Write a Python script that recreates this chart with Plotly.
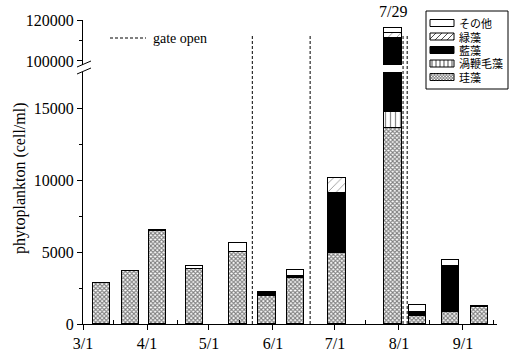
import plotly.graph_objects as go

# ---- data ----
dates = ["1995-03-10", "1995-03-24", "1995-04-06", "1995-04-24", "1995-05-15", "1995-05-29",
         "1995-06-12", "1995-07-02", "1995-07-29", "1995-08-10", "1995-08-26", "1995-09-09"]
diatom = [2880, 3650, 6450, 3820, 5020, 1970, 3170, 4950, 13580, 560, 860, 1170]          # 珪藻
dino   = [None, None, None, None, None, None, None, None, 1150, None, None, None]          # 渦鞭毛藻
blue   = [None, 50, 70, None, None, 200, 160, 4120, 96330, 290, 3080, 50]                  # 藍藻
green  = [None, None, None, None, None, None, None, 1060, 2440, None, 100, None]           # 緑藻
other  = [None, None, None, 230, 620, 50, 400, None, 2740, 470, 400, None]                 # その他
gate_open = ["1995-05-22", "1995-06-19", "1995-08-03", "1995-08-05"]
month_ticks = ["1995-03-01", "1995-04-01", "1995-05-01", "1995-06-01", "1995-07-01", "1995-08-01", "1995-09-01"]
month_labels = ["3/1", "4/1", "5/1", "6/1", "7/1", "8/1", "9/1"]
minor_ticks = ["1995-03-16", "1995-04-16", "1995-05-16", "1995-06-16", "1995-07-16", "1995-08-16", "1995-09-16"]
legend_names = ["その他", "緑藻", "藍藻", "渦鞭毛藻", "珪藻"]

series = [
    ("珪藻", diatom, dict(fillmode="overlay", bgcolor="white", fgcolor="#000", shape="x", size=3, solidity=0.6), "white"),
    ("渦鞭毛藻", dino, dict(fillmode="overlay", bgcolor="white", fgcolor="#111", shape="|", size=5, solidity=0.25), "white"),
    ("藍藻", blue, None, "black"),
    ("緑藻", green, dict(fillmode="overlay", bgcolor="white", fgcolor="#333", shape="/", size=6, solidity=0.15), "white"),
    ("その他", other, None, "white"),
]

W, H = 509, 353
L, R, T, B = 83, 12, 20, 29
PW, PH = W - L - R, H - T - B
def px(x): return (x - L) / PW
def py(y): return (H - B - y) / PH

bar_w = 8.5 * 86400000
SERIF = "Liberation Serif"
DASH = "3px,2px"

fig = go.Figure()
for name, vals, pat, col in series:
    for ax in ("y", "y2"):
        marker = dict(color=col, line=dict(color="black", width=1))
        if pat:
            marker["pattern"] = pat
        fig.add_trace(go.Bar(x=dates, y=vals, name=name, yaxis=ax, width=bar_w,
                             marker=marker, showlegend=False))

shapes = []
for d in gate_open:
    shapes.append(dict(type="line", xref="x", yref="paper", x0=d, x1=d, y0=0, y1=py(36),
                       line=dict(color="black", width=1, dash=DASH)))
# gate open key
shapes.append(dict(type="line", xref="paper", yref="paper", x0=px(110), x1=px(146), y0=py(38), y1=py(38),
                   line=dict(color="black", width=1, dash=DASH)))
# axis break marks
for y0 in (67, 74):
    shapes.append(dict(type="line", xref="paper", yref="paper", x0=px(77), x1=px(91), y0=py(y0), y1=py(y0 - 6),
                       line=dict(color="black", width=1)))

# ---- custom legend (box, swatches, hatching) ----
def seg_path(segs):
    return " ".join(f"M{px(a):.5f},{py(b):.5f} L{px(c):.5f},{py(d):.5f}" for a, b, c, d in segs)

def hatch(x0, x1, yt, yb, step, kind):
    h = yb - yt
    segs = []
    if kind == "|":
        x = x0 + step / 2
        while x < x1:
            segs.append((x, yt, x, yb)); x += step
        return segs
    a = x0 - h
    while a < x1:
        sx, sy, ex, ey = a, yb, a + h, yt
        if sx < x0:
            t = x0 - sx; sx, sy = x0, yb - t
        if ex > x1:
            t = ex - x1; ex, ey = x1, yt + t
        if ex > sx:
            if kind == "/":
                segs.append((sx, sy, ex, ey))
            else:  # mirrored "\"
                segs.append((x0 + x1 - sx, sy, x0 + x1 - ex, ey))
        a += step
    return segs

shapes.append(dict(type="rect", xref="paper", yref="paper", x0=px(426), x1=px(508), y0=py(89), y1=py(11),
                   line=dict(color="black", width=1), fillcolor="white", layer="above"))
row_y = [23, 36.5, 50, 63.5, 77]
sx0, sx1 = 430, 454
annotations = []
for i, (nm, cy) in enumerate(zip(legend_names, row_y)):
    yt, yb = cy - 3.5, cy + 3.5
    fill = "black" if nm == "藍藻" else "white"
    shapes.append(dict(type="rect", xref="paper", yref="paper", x0=px(sx0), x1=px(sx1), y0=py(yb), y1=py(yt),
                       line=dict(color="black", width=1), fillcolor=fill, layer="above"))
    segs = []
    if nm == "緑藻":
        segs = hatch(sx0, sx1, yt, yb, 6, "/")
    elif nm == "渦鞭毛藻":
        segs = hatch(sx0, sx1, yt, yb, 4, "|")
    elif nm == "珪藻":
        segs = hatch(sx0, sx1, yt, yb, 3, "/") + hatch(sx0, sx1, yt, yb, 3, "\\")
    if segs:
        shapes.append(dict(type="path", xref="paper", yref="paper", path=seg_path(segs), layer="above",
                           line=dict(color="#444" if nm == "珪藻" else "black", width=0.7)))
    annotations.append(dict(text=nm, xref="paper", yref="paper", x=px(458), y=py(cy), xanchor="left",
                            yanchor="middle", showarrow=False, height=12, borderpad=0,
                            font=dict(family="Noto Sans CJK JP", size=11, color="black")))

annotations += [
    dict(text="gate open", xref="paper", yref="paper", x=px(151), y=py(38), xanchor="left", yanchor="middle",
         showarrow=False, font=dict(family=SERIF, size=14, color="black")),
    dict(text="7/29", xref="x", yref="paper", x="1995-07-29", y=py(12), xanchor="center", yanchor="middle",
         showarrow=False, font=dict(family=SERIF, size=16, color="black")),
    dict(text="phytoplankton (cell/ml)", xref="paper", yref="paper", x=px(20), y=py(178), textangle=-90,
         xanchor="center", yanchor="middle", showarrow=False, font=dict(family=SERIF, size=16, color="black")),
]

fig.update_layout(
    width=W, height=H, margin=dict(l=L, r=R, t=T, b=B, autoexpand=False),
    paper_bgcolor="white", plot_bgcolor="white",
    barmode="stack", bargap=0, showlegend=False,
    font=dict(family=SERIF, size=15, color="black"),
    shapes=shapes, annotations=annotations,
    xaxis=dict(type="date", range=["1995-03-01", "1995-09-17 12:00"], showline=True, linecolor="black",
               linewidth=1, showgrid=False, zeroline=False, tickmode="array", tickvals=month_ticks,
               ticktext=month_labels, ticks="outside", ticklen=5, tickcolor="black",
               minor=dict(tickmode="array", tickvals=minor_ticks, ticks="inside", ticklen=4, tickcolor="black"),
               tickfont=dict(family=SERIF, size=16), anchor="y", automargin=False),
    yaxis=dict(domain=[0, py(72)], range=[0, 17500], showline=True, linecolor="black", linewidth=1,
               showgrid=False, zeroline=False, tickmode="array", tickvals=[0, 5000, 10000, 15000],
               ticktext=["0", "5000", "10000", "15000"], ticks="outside", ticklen=5, tickcolor="black",
               minor=dict(tickmode="array", tickvals=[2500, 7500, 12500], ticks="outside", ticklen=3, tickcolor="black"),
               tickfont=dict(family=SERIF, size=16), anchor="x", automargin=False),
    yaxis2=dict(domain=[py(65), 1], range=[98000, 120000], showline=True, linecolor="black", linewidth=1,
                showgrid=False, zeroline=False, tickmode="array", tickvals=[100000, 120000],
                ticktext=["100000", "120000"], ticks="outside", ticklen=5, tickcolor="black",
                minor=dict(tickmode="array", tickvals=[110000], ticks="outside", ticklen=3, tickcolor="black"),
                tickfont=dict(family=SERIF, size=16), anchor="x", automargin=False),
)

fig.write_html("out.html", config={"displayModeBar": False},
               post_script="document.body.style.margin='0';document.body.style.overflow='hidden';")
